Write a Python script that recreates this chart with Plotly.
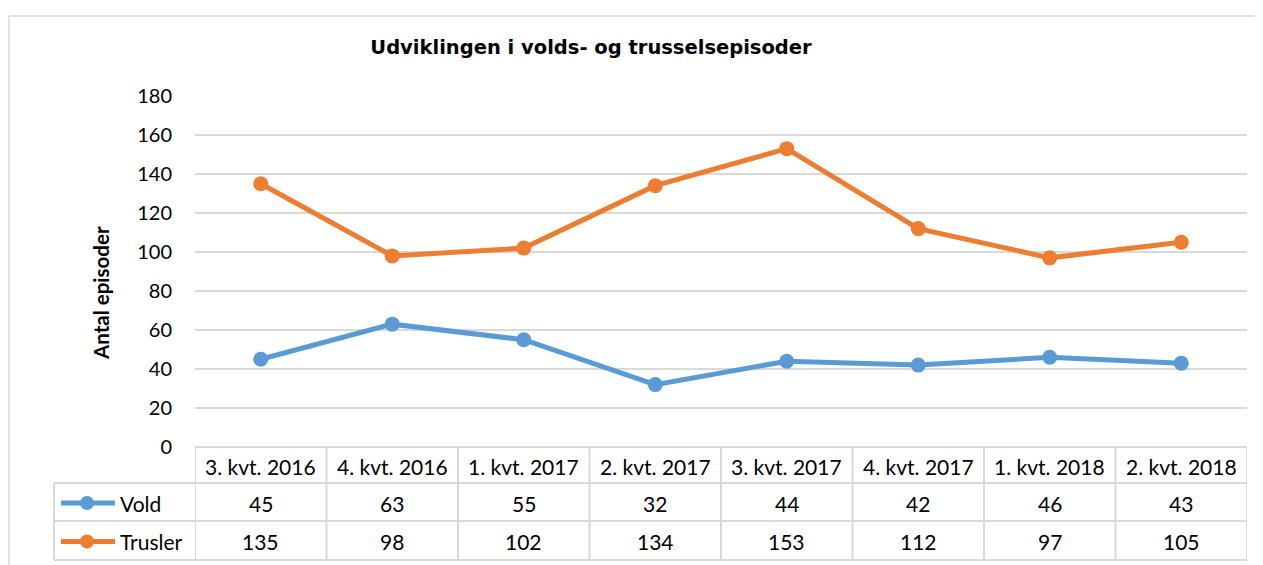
import plotly.graph_objects as go

kvartaler = ["3. kvt. 2016", "4. kvt. 2016", "1. kvt. 2017", "2. kvt. 2017",
             "3. kvt. 2017", "4. kvt. 2017", "1. kvt. 2018", "2. kvt. 2018"]
vold = [45, 63, 55, 32, 44, 42, 46, 43]
trusler = [135, 98, 102, 134, 153, 112, 97, 105]
serier = [("Vold", vold, "#5B9BD5"), ("Trusler", trusler, "#ED7D31")]

OFF = 8                      # siden har 8 px margen i browseren
W, H = 1263 - OFF, 565 - OFF
L, R, T, B = 195 - OFF, 1247 - OFF, 96 - OFF, 447 - OFF   # plotområde i pixel
FONT = "Lato"
GRID = "#D9D9D9"


def px_x(p):  # skærm-pixel -> paper x
    return (p - OFF - L) / (R - L)


def px_y(p):  # skærm-pixel -> paper y
    return (B - (p - OFF)) / (B - T)


idx = list(range(len(kvartaler)))

fig = go.Figure()
for navn, vals, farve in serier:
    fig.add_trace(go.Scatter(x=idx, y=vals, mode="lines+markers", name=navn,
                             line=dict(color=farve, width=5),
                             marker=dict(color=farve, size=15),
                             showlegend=False, cliponaxis=False))

shapes = []
ann = []

# ydre ramme
shapes.append(dict(type="line", xref="paper", yref="paper", x0=px_x(9), x1=px_x(1280),
                   y0=px_y(16), y1=px_y(16), line=dict(color=GRID, width=1.5)))
shapes.append(dict(type="line", xref="paper", yref="paper", x0=px_x(9), x1=px_x(9),
                   y0=px_y(16), y1=px_y(600), line=dict(color=GRID, width=1.5)))

# datatabel under akserne
rows = [447, 483, 521, 560]
tab = dict(color=GRID, width=2)
shapes.append(dict(type="line", xref="paper", yref="paper", x0=0, x1=1,
                   y0=px_y(rows[0]), y1=px_y(rows[0]), line=tab))
for r in rows[1:]:
    shapes.append(dict(type="line", xref="paper", yref="paper", x0=px_x(54), x1=1,
                       y0=px_y(r), y1=px_y(r), line=tab))
for i in range(len(kvartaler) + 1):
    shapes.append(dict(type="line", xref="x", yref="paper", x0=i - 0.5, x1=i - 0.5,
                       y0=px_y(rows[0]), y1=px_y(rows[-1]), line=tab))
shapes.append(dict(type="line", xref="paper", yref="paper", x0=px_x(54), x1=px_x(54),
                   y0=px_y(rows[1]), y1=px_y(rows[-1]), line=tab))

for i, k in enumerate(kvartaler):
    ann.append(dict(x=i, y=px_y((rows[0] + rows[1]) / 2 + 1), xref="x", yref="paper",
                    yanchor="middle", text=k, showarrow=False,
                    font=dict(family=FONT, size=21, color="#000")))

for j, (navn, vals, farve) in enumerate(serier):
    yc = px_y((rows[j + 1] + rows[j + 2]) / 2 + 1)
    for i, v in enumerate(vals):
        ann.append(dict(x=i, y=yc, xref="x", yref="paper", yanchor="middle", text=str(v),
                        showarrow=False, font=dict(family=FONT, size=21, color="#000")))
    # legendenøgle
    shapes.append(dict(type="line", xref="paper", yref="paper", x0=px_x(61), x1=px_x(115),
                       y0=yc, y1=yc, line=dict(color=farve, width=5)))
    shapes.append(dict(type="circle", xref="paper", yref="paper", x0=px_x(80), x1=px_x(94),
                       y0=yc - 7 / (B - T), y1=yc + 7 / (B - T),
                       fillcolor=farve, line=dict(color=farve, width=0)))
    ann.append(dict(x=px_x(118), y=yc, xref="paper", yref="paper", text=navn,
                    xanchor="left", yanchor="middle", showarrow=False,
                    font=dict(family=FONT, size=21, color="#000")))

# y-aksetitel
ann.append(dict(x=px_x(101), y=px_y(293), xref="paper", yref="paper", text="<b>Antal episoder</b>",
                xanchor="center", yanchor="middle", textangle=-90, showarrow=False,
                font=dict(family=FONT, size=20.5, color="#000")))

fig.update_layout(
    width=W, height=H,
    margin=dict(l=L, r=W - R, t=T, b=H - B),
    paper_bgcolor="white", plot_bgcolor="white",
    title=dict(text="<b>Udviklingen i volds- og trusselsepisoder</b>", x=(591 - OFF) / W,
               xanchor="center", y=1 - (47 - OFF) / H, yanchor="middle",
               font=dict(family="DejaVu Sans", size=19.5, color="#000")),
    xaxis=dict(range=[-0.5, len(kvartaler) - 0.5], showticklabels=False, showgrid=False,
               zeroline=False, showline=False, fixedrange=True),
    yaxis=dict(range=[0, 180], dtick=20, showgrid=True, gridcolor=GRID, gridwidth=1.5,
               zeroline=False, showline=False, ticklabelstandoff=22,
               tickfont=dict(family=FONT, size=20, color="#000")),
    shapes=shapes, annotations=ann,
)

fig.write_html("out.html")
